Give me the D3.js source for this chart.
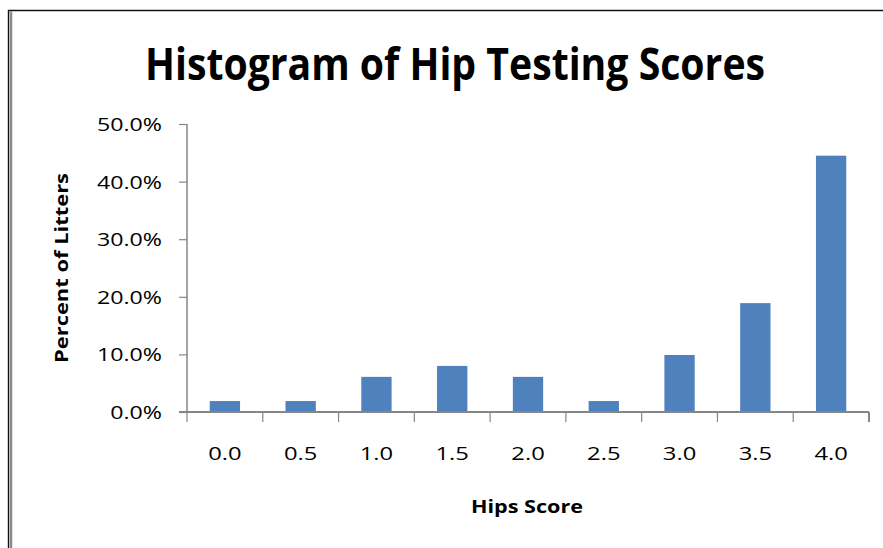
<!DOCTYPE html>
<html>
<head>
<meta charset="utf-8">
<script src="https://cdn.jsdelivr.net/npm/d3@7"></script>
<style>
  html, body { margin: 0; padding: 0; background: #fff; overflow: hidden; }
  svg { display: block; }
  text { font-family: "Open Sans", "Noto Sans", sans-serif; fill: #000; }
</style>
</head>
<body>
<svg id="chart" width="883" height="548"></svg>
<script>
const categories = ["0.0", "0.5", "1.0", "1.5", "2.0", "2.5", "3.0", "3.5", "4.0"];
const percentValues = [1.9, 1.9, 6.1, 8.0, 6.1, 1.9, 9.9, 18.9, 44.5];
const yTickValues = [0, 10, 20, 30, 40, 50];
const titleText = "Histogram of Hip Testing Scores";
const xTitle = "Hips Score";
const yTitle = "Percent of Litters";

(function () {
const svg = d3.select("#chart");

// outer frame: only top and left edges are visible in the window
svg.append("line").attr("x1", 8).attr("x2", 883).attr("y1", 10.5).attr("y2", 10.5)
  .attr("stroke", "#111").attr("stroke-width", 1.6);
svg.append("line").attr("x1", 8.5).attr("x2", 8.5).attr("y1", 10).attr("y2", 548)
  .attr("stroke", "#111").attr("stroke-width", 1.4);
svg.append("line").attr("x1", 11).attr("x2", 11).attr("y1", 11.5).attr("y2", 548)
  .attr("stroke", "#8a8a8a").attr("stroke-width", 2.5);

const pLeft = 187, pRight = 869, pTop = 124, pBottom = 412;

const x = d3.scaleBand().domain(categories).range([pLeft, pRight]).paddingInner(0.6).paddingOuter(0.3);
const y = d3.scaleLinear().domain([0, 50]).range([pBottom, pTop]);

function stretch(sel, factor) {
  sel.each(function () {
    const w = this.getComputedTextLength();
    d3.select(this).attr("textLength", w * factor).attr("lengthAdjust", "spacingAndGlyphs");
  });
}

// bars
svg.append("g").selectAll("rect").data(percentValues).join("rect")
  .attr("x", (d, i) => x(categories[i]))
  .attr("width", x.bandwidth())
  .attr("y", d => y(d))
  .attr("height", d => y(0) - y(d))
  .attr("fill", "#4F81BD");

// y axis
const yAxis = d3.axisLeft(y).tickValues(yTickValues).tickSize(8).tickPadding(17)
  .tickFormat(d => d.toFixed(1) + "%");
const gy = svg.append("g").attr("transform", `translate(${pLeft},0)`).call(yAxis);
gy.attr("font-size", 19).attr("font-family", "'Open Sans', sans-serif");
gy.select(".domain").attr("stroke", "#868686").attr("stroke-width", 1.5).attr("d", `M0,${pTop}V${pBottom}`);
gy.selectAll(".tick line").attr("stroke", "#868686").attr("stroke-width", 1.2);
gy.selectAll(".tick text").attr("font-size", 19).attr("fill", "#000").attr("dy", "0.34em");
stretch(gy.selectAll(".tick text"), 1.22);

// x axis: boundary ticks between categories
const boundaries = d3.range(categories.length + 1).map(i => pLeft + i * (pRight - pLeft) / categories.length);
svg.append("line").attr("x1", pLeft - 8).attr("x2", pRight).attr("y1", pBottom).attr("y2", pBottom)
  .attr("stroke", "#868686").attr("stroke-width", 2.2);
svg.append("g").selectAll("line").data(boundaries).join("line")
  .attr("x1", d => d).attr("x2", d => d).attr("y1", pBottom).attr("y2", pBottom + 10)
  .attr("stroke", "#868686").attr("stroke-width", (d, i) => i === categories.length ? 2 : 1.2);

const xAxis = d3.axisBottom(x).tickSize(0).tickPadding(35);
const gx = svg.append("g").attr("transform", `translate(0,${pBottom})`).call(xAxis);
gx.attr("font-size", 19).attr("font-family", "'Open Sans', sans-serif");
gx.select(".domain").remove();
gx.selectAll(".tick text").attr("font-size", 19).attr("fill", "#000");
stretch(gx.selectAll(".tick text"), 1.25);

// titles
svg.append("text").attr("x", 455).attr("y", 80).attr("text-anchor", "middle")
  .attr("font-size", 44).attr("font-weight", "bold")
  .attr("textLength", 620).attr("lengthAdjust", "spacingAndGlyphs")
  .text(titleText);

svg.append("text").attr("x", 527).attr("y", 513).attr("text-anchor", "middle")
  .attr("font-size", 18).attr("font-weight", "bold")
  .attr("textLength", 112).attr("lengthAdjust", "spacingAndGlyphs")
  .text(xTitle);

svg.append("text").attr("transform", "translate(68,268) rotate(-90)").attr("text-anchor", "middle")
  .attr("font-size", 18).attr("font-weight", "bold")
  .attr("textLength", 190).attr("lengthAdjust", "spacingAndGlyphs")
  .text(yTitle);
})();
</script>
</body>
</html>
